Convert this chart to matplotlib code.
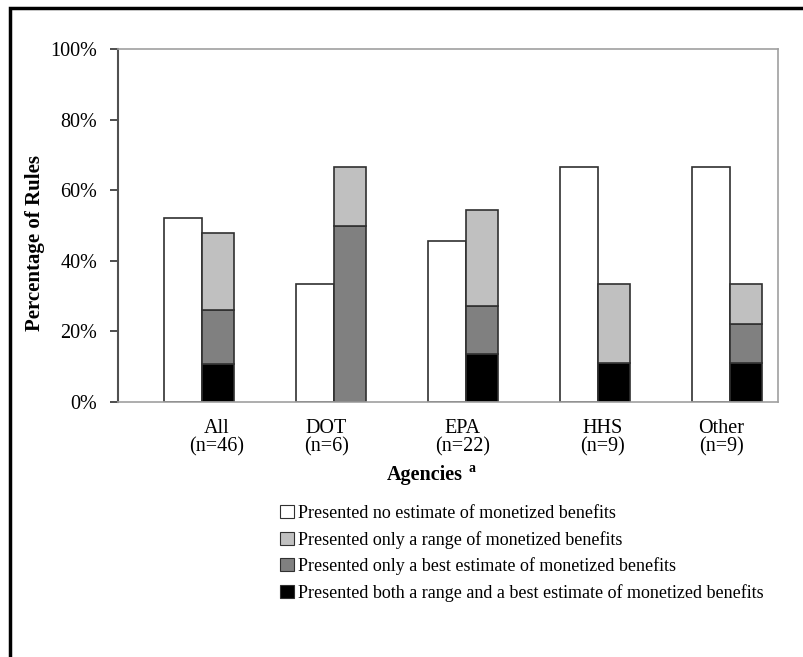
import numpy as np
import matplotlib.pyplot as plt
from matplotlib.patches import Patch, Rectangle

# data (percent of rules)
agencies = ['All\n(n=46)', 'DOT\n(n=6)', 'EPA\n(n=22)', 'HHS\n(n=9)', 'Other\n(n=9)']
label_pos = [0.75, 1.58, 2.61, 3.67, 4.57]
no_estimate = [52.2, 33.3, 45.5, 66.7, 66.7]
both = [10.9, 0.0, 13.6, 11.1, 11.1]
best_only = [15.2, 50.0, 13.6, 0.0, 11.1]
range_only = [21.7, 16.7, 27.3, 22.2, 11.1]
yticks = [0, 20, 40, 60, 80, 100]

legend_labels = ['Presented no estimate of monetized benefits',
                 'Presented only a range of monetized benefits',
                 'Presented only a best estimate of monetized benefits',
                 'Presented both a range and a best estimate of monetized benefits']

plt.rcParams['font.family'] = ['Liberation Serif', 'DejaVu Serif']

fig = plt.figure(figsize=(8.04, 6.57), dpi=100)
ax = fig.add_axes([118 / 804, 1 - 402 / 657, 660 / 804, 353 / 657])

x = np.arange(len(agencies))
edge = '#303030'
lw = 1.2
ax.bar(x + 0.348, no_estimate, width=0.288, align='edge', color='white', edgecolor=edge, linewidth=lw)
b = np.array(both)
bo = np.array(best_only)
ax.bar(x + 0.636, both, width=0.243, align='edge', color='black', edgecolor=edge, linewidth=lw)
ax.bar(x + 0.636, best_only, bottom=b, width=0.243, align='edge', color='#808080', edgecolor=edge, linewidth=lw)
ax.bar(x + 0.636, range_only, bottom=b + bo, width=0.243, align='edge', color='#c0c0c0', edgecolor=edge, linewidth=lw)

ax.set_xlim(0, 5)
ax.set_ylim(0, 100)
ax.set_yticks(yticks)
ax.set_yticklabels([f'{v}%' for v in yticks])
ax.set_xticks(label_pos)
ax.set_xticklabels(agencies)
for t in ax.get_xticklabels():
    t.set_linespacing(1.0)
ax.tick_params(axis='x', length=0, pad=12, labelsize=14.5)
ax.tick_params(axis='y', length=6, width=1.2, pad=9, labelsize=14.5, color='#303030')

ax.spines['left'].set_color('#505050')
ax.spines['left'].set_linewidth(1.5)
for s in ['top', 'right', 'bottom']:
    ax.spines[s].set_color('#a0a0a0')
    ax.spines[s].set_linewidth(1.2)

fig.text(35 / 804, 1 - 243 / 657, 'Percentage of Rules', rotation=90, fontsize=15,
         fontweight='bold', ha='center', va='center')
fig.text(425 / 804, 1 - 475 / 657, 'Agencies', fontsize=14.5, fontweight='bold', ha='center', va='center')
fig.text(469 / 804, 1 - 468 / 657, 'a', fontsize=10, fontweight='bold', ha='left', va='center')

handles = [Patch(facecolor=c, edgecolor=edge, linewidth=0.8) for c in ['white', '#c0c0c0', '#808080', 'black']]
fig.legend(handles, legend_labels, loc='upper left', bbox_to_anchor=(280 / 804, 1 - 505 / 657),
           frameon=False, fontsize=13, handlelength=0.75, handleheight=0.75, handletextpad=0.25,
           labelspacing=0.48, borderpad=0, borderaxespad=0)

# outer frame
fig.patches.append(Rectangle((10 / 804, -0.1), 1.2, 1 - 8 / 657 + 0.1, transform=fig.transFigure,
                             fill=False, edgecolor='black', linewidth=2.5))

fig.savefig('out.png', dpi=100)
